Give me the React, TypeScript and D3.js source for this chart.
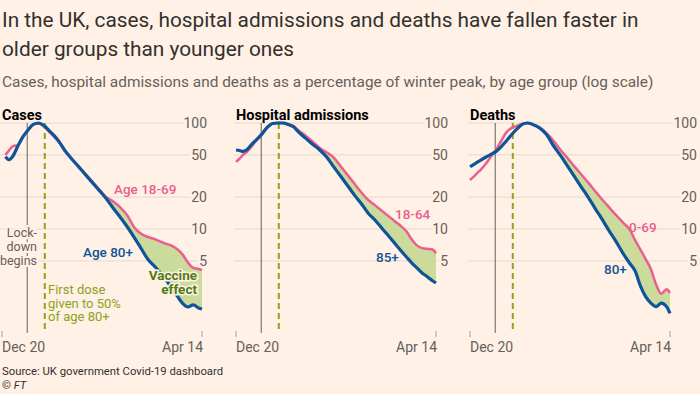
import React from "react";
import * as d3 from "d3";

// days since Dec 20 2020
const days = [0, 2, 4, 6, 9, 12, 15, 18, 21, 24, 27, 30, 33, 36, 40, 44, 48, 52, 56, 60, 64, 68, 72, 76, 80, 84, 88, 92, 95, 98, 101, 104, 107, 110, 113, 115];

// % of winter peak
const casesOlder = [null, 48, 45, 48, 60, 74, 86, 97, 100, 95, 85, 76, 66, 55.5, 46, 38.8, 32.6, 27.4, 23, 19.3, 15.7, 12.9, 10.5, 8.35, 6.55, 5.15, 4.4, 3.7, 3.2, 2.7, 2.3, 1.98, 1.84, 1.92, 1.8, 1.76];
const casesYounger = [null, 50, 55, 60, 62, 74, 86, 97, 99, 93, 83, 74, 65, 55, 46, 39, 33, 27.8, 23.5, 20, 18.2, 16, 13.5, 10.4, 9.0, 8.4, 8.0, 7.5, 7.2, 6.9, 6.4, 5.7, 4.8, 4.3, 4.2, 4.1];
const hospOlder = [55.6, 55, 54, 55.6, 63, 70, 79, 91, 99, 100, 100, 97, 92, 82, 72, 63, 56, 48, 39, 31.8, 25.9, 21, 17.4, 14.1, 12.1, 10.1, 8.5, 7.1, 6.2, 5.45, 4.8, 4.3, 3.85, 3.55, 3.25, 3.1];
const hospYounger = [43, 46, 50, 53, 60, 70, 80, 92, 99, 100, 100, 98, 94, 85, 76, 67, 58.5, 53, 47.7, 39.4, 32.6, 26.9, 22.2, 18.8, 16.7, 14.8, 13.1, 11.6, 10.6, 9.5, 8.0, 7.0, 6.6, 6.5, 6.4, 5.9];
const deathsOlder = [38.7, 40.5, 42.5, 44.5, 47.5, 50.5, 54, 60, 68, 78, 88, 97, 100, 97, 90, 78, 61, 49.5, 39.4, 31.4, 24.9, 19.9, 15.6, 12.3, 9.6, 7.6, 5.9, 4.7, 4.0, 2.9, 2.3, 2.0, 1.85, 2.0, 1.85, 1.6];
const deathsYounger = [29, 31, 33.5, 36, 41, 48, 56, 68, 82, 90, 94, 98, 100, 97, 90, 80, 68, 56, 46.9, 39, 32.7, 27.4, 22.7, 19, 16, 13.5, 11.5, 9.8, 7.8, 6.4, 5.2, 4.2, 3.0, 2.45, 2.7, 2.5];

const xTickDays = [0, 115];
const xTickLabels = ["Dec 20", "Apr 14"];
const yTickValues = [5, 10, 20, 50, 100];
const lockdownDay = 14.5;
const firstDoseDay = 24.6;

const panelTitles = ["Cases", "Hospital admissions", "Deaths"];
const youngerLabels = ["Age 18-69", "18-64", "0-69"];
const olderLabels = ["Age 80+", "85+", "80+"];
const fillFromDay = [52, 44, 44];

const series = [
  [casesOlder, casesYounger],
  [hospOlder, hospYounger],
  [deathsOlder, deathsYounger],
];

const BG = "#fff1e5";
const PINK = "#eb5f8e";
const BLUE = "#0f5499";
const FILL = "#cbdb9c";
const OLIVE = "#8da31b";
const GRID = "#e6d8cc";
const TEXT = "#33302e";
const MUTED = "#66605c";
const FONT = "Roboto, 'Noto Sans', sans-serif";

// panel placement: left edge, right edge of y labels, label offsets
const layout = [
  { x0: 2, labelRight: 207, younger: [112, 194], older: [81, 257] },
  { x0: 236, labelRight: 448, younger: [159, 219], older: [140, 262] },
  { x0: 470, labelRight: 697, younger: [159, 232], older: [134, 274] },
];

const Panel = ({ i }: { i: number }) => {
  const { x0, labelRight, younger, older } = layout[i];
  const [oldVals, youngVals] = series[i];
  const x = d3.scaleLinear().domain([0, 115]).range([x0, x0 + 200]);
  const y = d3.scaleLog().domain([1, 100]).range([335, 123]);
  const rows = days.map((d, k) => ({ d, o: oldVals[k], g: youngVals[k] }));

  const lineOld = d3
    .line<any>()
    .defined((r) => r.o != null)
    .x((r) => x(r.d))
    .y((r) => y(r.o))
    .curve(d3.curveMonotoneX);
  const lineYoung = d3
    .line<any>()
    .defined((r) => r.g != null)
    .x((r) => x(r.d))
    .y((r) => y(r.g))
    .curve(d3.curveMonotoneX);
  const gap = d3
    .area<any>()
    .defined((r) => r.d >= fillFromDay[i] && r.o != null)
    .x((r) => x(r.d))
    .y0((r) => y(r.o))
    .y1((r) => y(r.g))
    .curve(d3.curveMonotoneX);

  return (
    <g>
      {yTickValues.map((v) => (
        <line key={"g" + v} x1={x0 - 2} x2={labelRight} y1={y(v)} y2={y(v)} stroke={GRID} strokeWidth={1} />
      ))}
      {yTickValues.map((v) => (
        <text
          key={"t" + v}
          x={labelRight}
          y={y(v)}
          dy="0.36em"
          textAnchor="end"
          fontSize={14}
          fill={MUTED}
          stroke={BG}
          strokeWidth={5}
          paintOrder="stroke"
        >
          {v}
        </text>
      ))}
      {xTickDays.map((d, k) => (
        <g key={"x" + d}>
          <line x1={x(d)} x2={x(d)} y1={331} y2={337} stroke="#a59d95" strokeWidth={1} />
          <text x={x(d) + (k === 0 ? 0 : 1)} y={352} textAnchor={k === 0 ? "start" : "end"} fontSize={14} fill={MUTED}>
            {xTickLabels[k]}
          </text>
        </g>
      ))}
      <line x1={x(lockdownDay)} x2={x(lockdownDay)} y1={y(100)} y2={333} stroke={MUTED} strokeWidth={1} />
      <line
        x1={x(firstDoseDay)}
        x2={x(firstDoseDay)}
        y1={y(100)}
        y2={333}
        stroke={OLIVE}
        strokeWidth={2}
        strokeDasharray="6,4"
      />
      <path d={gap(rows) || ""} fill={FILL} />
      <path d={lineYoung(rows) || ""} fill="none" stroke={PINK} strokeWidth={2.5} strokeLinejoin="round" />
      <path d={lineOld(rows) || ""} fill="none" stroke={BLUE} strokeWidth={3.2} strokeLinejoin="round" />
      <text x={x0} y={120} fontSize={14.5} fontWeight={700} fill="#000">
        {panelTitles[i]}
      </text>
      <text x={x0 + younger[0]} y={younger[1]} fontSize={13.5} fontWeight={500} fill={PINK}>
        {youngerLabels[i]}
      </text>
      <text x={x0 + older[0]} y={older[1]} fontSize={13.5} fontWeight={500} fill={BLUE}>
        {olderLabels[i]}
      </text>
    </g>
  );
};

const App = () => {
  const lines = (arr: string[], x: number, y0: number, lh: number, props: any) => (
    <text x={x} y={y0} {...props}>
      {arr.map((s, k) => (
        <tspan key={k} x={x} y={y0 + k * lh}>
          {s}
        </tspan>
      ))}
    </text>
  );
  return (
    <svg
      width={700}
      height={394}
      style={{ position: "absolute", left: 0, top: 0, display: "block" }}
      fontFamily={FONT}
    >
      <rect width={700} height={394} fill={BG} />
      <text x={2} y={27} fontSize={20.8} fill={TEXT}>
        In the UK, cases, hospital admissions and deaths have fallen faster in
      </text>
      <text x={2} y={56} fontSize={20.8} fill={TEXT}>
        older groups than younger ones
      </text>
      <text x={2} y={87} fontSize={15.4} fill={MUTED}>
        Cases, hospital admissions and deaths as a percentage of winter peak, by age group (log scale)
      </text>
      {[0, 1, 2].map((i) => (
        <Panel key={i} i={i} />
      ))}
      {lines(["Lock-", "down", "begins"], 37, 237, 14, {
        fontSize: 12.5,
        fill: MUTED,
        textAnchor: "end",
        stroke: BG,
        strokeWidth: 4,
        paintOrder: "stroke",
      })}
      {lines(["First dose", "given to 50%", "of age 80+"], 48, 294, 13.5, {
        fontSize: 13,
        fill: OLIVE,
        stroke: BG,
        strokeWidth: 3,
        paintOrder: "stroke",
      })}
      {lines(["Vaccine", "effect"], 197, 280, 14, {
        fontSize: 13.5,
        fontWeight: 700,
        fill: "#507c10",
        textAnchor: "end",
        stroke: BG,
        strokeWidth: 3,
        paintOrder: "stroke",
      })}
      <text x={2} y={375} fontSize={11.3} fill={TEXT}>
        Source: UK government Covid-19 dashboard
      </text>
      <text x={2} y={389} fontSize={11.3} fill={TEXT}>
        © <tspan fontStyle="italic">FT</tspan>
      </text>
    </svg>
  );
};

export default App;
